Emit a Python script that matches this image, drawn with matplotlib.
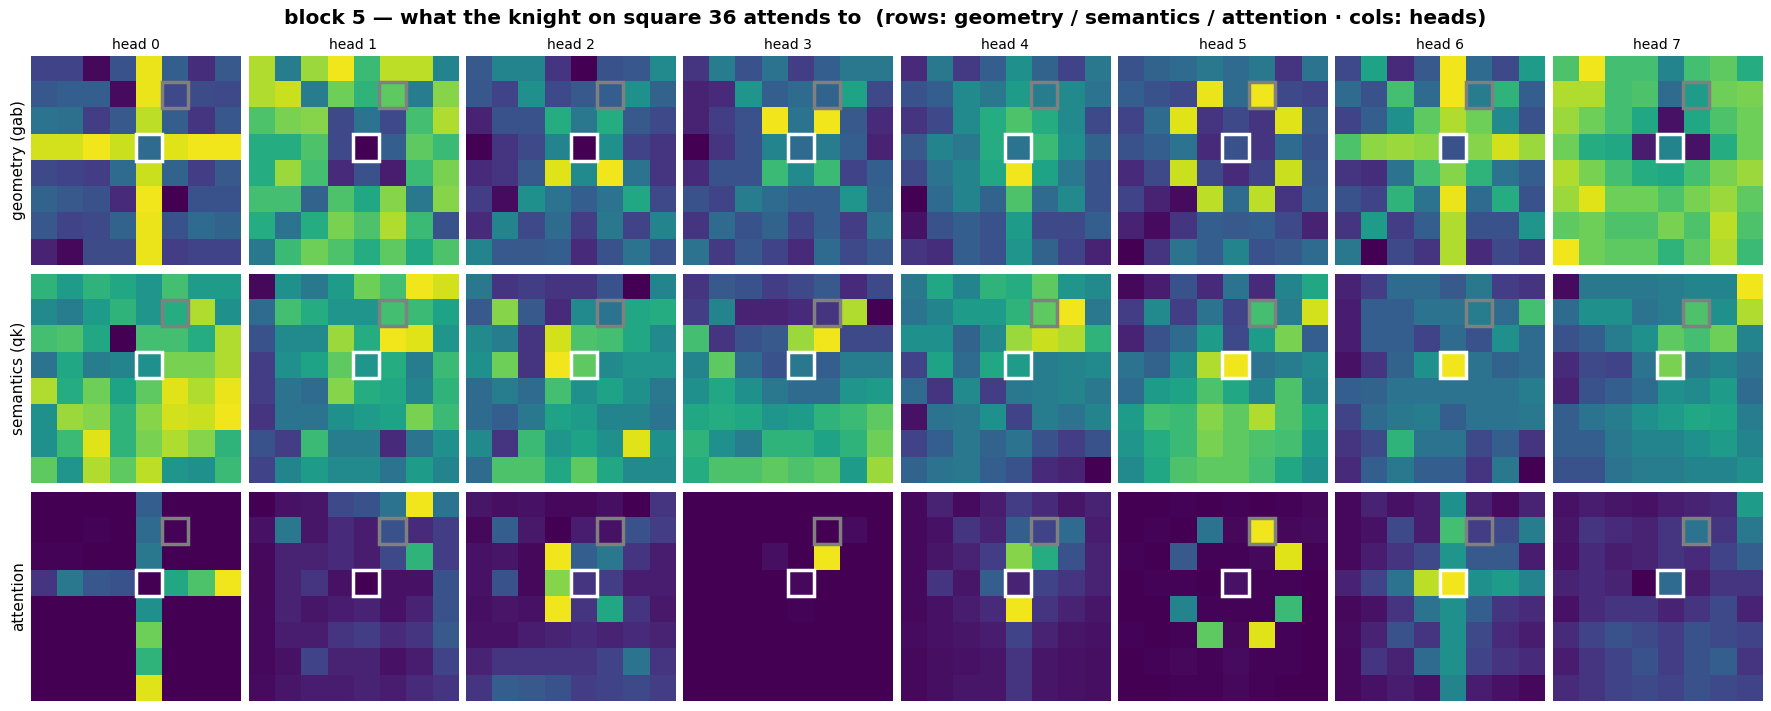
import numpy as np
import matplotlib
matplotlib.use("Agg")
import matplotlib.pyplot as plt
from matplotlib.patches import Rectangle

TITLE = "block 5 \u2014 what the knight on square 36 attends to  (rows: geometry / semantics / attention \u00b7 cols: heads)"
ROW_LABELS = ["geometry (gab)", "semantics (qk)", "attention"]
HEAD_LABELS = ["head 0", "head 1", "head 2", "head 3", "head 4", "head 5", "head 6", "head 7"]
KNIGHT_CELL = (3, 4)   # square 36 (row, col in displayed board)
TARGET_CELL = (1, 5)   # square 53

# ---------------- geometry (gab) ----------------
geometry_h0 = [
    [0.20, 0.20, 0.02, 0.25, 0.97, 0.30, 0.13, 0.28],
    [0.27, 0.30, 0.30, 0.03, 0.97, 0.22, 0.23, 0.22],
    [0.38, 0.37, 0.18, 0.28, 0.90, 0.30, 0.15, 0.27],
    [0.93, 0.93, 0.98, 0.92, 0.35, 0.95, 0.98, 0.98],
    [0.22, 0.20, 0.18, 0.35, 0.92, 0.32, 0.18, 0.28],
    [0.32, 0.28, 0.25, 0.12, 0.98, 0.00, 0.25, 0.25],
    [0.27, 0.20, 0.22, 0.32, 0.97, 0.25, 0.35, 0.32],
    [0.10, 0.02, 0.23, 0.23, 0.97, 0.18, 0.20, 0.20],
]
geometry_h1 = [
    [0.88, 0.42, 0.85, 0.98, 0.68, 0.90, 0.90, 0.45],
    [0.88, 0.92, 0.42, 0.78, 0.65, 0.75, 0.42, 0.82],
    [0.72, 0.80, 0.82, 0.22, 0.38, 0.22, 0.70, 0.88],
    [0.62, 0.62, 0.72, 0.22, 0.00, 0.30, 0.75, 0.68],
    [0.62, 0.85, 0.70, 0.12, 0.25, 0.08, 0.68, 0.80],
    [0.70, 0.70, 0.32, 0.72, 0.60, 0.82, 0.40, 0.82],
    [0.62, 0.38, 0.62, 0.80, 0.72, 0.88, 0.68, 0.25],
    [0.40, 0.68, 0.78, 0.72, 0.62, 0.75, 0.60, 0.72],
]
geometry_h2 = [
    [0.28, 0.45, 0.45, 0.15, 0.00, 0.25, 0.27, 0.48],
    [0.27, 0.20, 0.50, 0.22, 0.28, 0.30, 0.50, 0.32],
    [0.10, 0.25, 0.25, 0.62, 0.40, 0.62, 0.28, 0.22],
    [0.00, 0.15, 0.22, 0.45, 0.00, 0.50, 0.20, 0.15],
    [0.12, 0.15, 0.28, 0.95, 0.48, 0.98, 0.38, 0.15],
    [0.18, 0.03, 0.50, 0.38, 0.30, 0.38, 0.60, 0.22],
    [0.12, 0.45, 0.22, 0.35, 0.18, 0.40, 0.20, 0.45],
    [0.45, 0.28, 0.28, 0.30, 0.12, 0.25, 0.38, 0.25],
]
geometry_h3 = [
    [0.15, 0.42, 0.25, 0.38, 0.18, 0.30, 0.40, 0.40],
    [0.10, 0.12, 0.52, 0.30, 0.35, 0.32, 0.58, 0.22],
    [0.10, 0.18, 0.25, 0.98, 0.38, 0.98, 0.28, 0.12],
    [0.00, 0.15, 0.25, 0.45, 0.35, 0.42, 0.30, 0.10],
    [0.12, 0.25, 0.25, 0.68, 0.48, 0.68, 0.20, 0.30],
    [0.25, 0.20, 0.42, 0.35, 0.30, 0.30, 0.52, 0.32],
    [0.15, 0.35, 0.25, 0.32, 0.20, 0.30, 0.18, 0.38],
    [0.38, 0.17, 0.27, 0.20, 0.12, 0.35, 0.22, 0.28],
]
geometry_h4 = [
    [0.12, 0.40, 0.17, 0.30, 0.50, 0.32, 0.20, 0.40],
    [0.25, 0.30, 0.48, 0.40, 0.55, 0.42, 0.48, 0.38],
    [0.15, 0.22, 0.48, 0.62, 0.72, 0.62, 0.48, 0.22],
    [0.28, 0.45, 0.40, 0.62, 0.38, 0.68, 0.50, 0.32],
    [0.22, 0.38, 0.45, 0.60, 0.98, 0.58, 0.40, 0.25],
    [0.00, 0.35, 0.45, 0.32, 0.72, 0.35, 0.48, 0.25],
    [0.05, 0.25, 0.30, 0.25, 0.55, 0.22, 0.22, 0.30],
    [0.15, 0.13, 0.30, 0.25, 0.52, 0.32, 0.20, 0.10],
]
geometry_h5 = [
    [0.25, 0.32, 0.35, 0.40, 0.35, 0.40, 0.15, 0.38],
    [0.30, 0.25, 0.22, 0.97, 0.35, 0.98, 0.22, 0.20],
    [0.20, 0.35, 0.95, 0.15, 0.22, 0.15, 0.95, 0.28],
    [0.25, 0.30, 0.38, 0.12, 0.25, 0.15, 0.35, 0.25],
    [0.12, 0.22, 0.92, 0.22, 0.12, 0.20, 0.92, 0.28],
    [0.20, 0.10, 0.03, 0.90, 0.35, 0.90, 0.15, 0.30],
    [0.10, 0.03, 0.15, 0.30, 0.28, 0.30, 0.22, 0.10],
    [0.00, 0.15, 0.38, 0.30, 0.45, 0.25, 0.28, 0.35],
]
geometry_h6 = [
    [0.22, 0.58, 0.12, 0.28, 0.98, 0.35, 0.22, 0.55],
    [0.35, 0.25, 0.70, 0.35, 0.98, 0.42, 0.65, 0.30],
    [0.20, 0.30, 0.50, 0.75, 0.88, 0.78, 0.48, 0.25],
    [0.72, 0.83, 0.85, 0.83, 0.25, 0.82, 0.93, 0.85],
    [0.15, 0.13, 0.38, 0.70, 0.82, 0.65, 0.38, 0.30],
    [0.25, 0.20, 0.65, 0.38, 0.97, 0.35, 0.62, 0.25],
    [0.15, 0.55, 0.18, 0.30, 0.88, 0.25, 0.25, 0.52],
    [0.40, 0.00, 0.22, 0.15, 0.88, 0.12, 0.22, 0.17],
]
geometry_h7 = [
    [0.72, 0.98, 0.70, 0.70, 0.45, 0.70, 0.75, 0.62],
    [0.88, 0.88, 0.70, 0.72, 0.35, 0.55, 0.78, 0.80],
    [0.85, 0.78, 0.70, 0.60, 0.05, 0.60, 0.72, 0.78],
    [0.78, 0.62, 0.60, 0.08, 0.45, 0.05, 0.62, 0.78],
    [0.88, 0.80, 0.70, 0.62, 0.60, 0.70, 0.80, 0.85],
    [0.85, 0.95, 0.78, 0.78, 0.72, 0.80, 0.85, 0.75],
    [0.75, 0.78, 0.72, 0.72, 0.80, 0.72, 0.90, 0.72],
    [0.98, 0.78, 0.75, 0.75, 0.65, 0.75, 0.88, 0.68],
]

# ---------------- semantics (qk) ----------------
semantics_h0 = [
    [0.65, 0.55, 0.65, 0.60, 0.52, 0.70, 0.55, 0.55],
    [0.48, 0.42, 0.55, 0.65, 0.52, 0.62, 0.88, 0.50],
    [0.70, 0.72, 0.60, 0.00, 0.70, 0.70, 0.62, 0.88],
    [0.38, 0.60, 0.42, 0.45, 0.50, 0.80, 0.80, 0.88],
    [0.88, 0.62, 0.78, 0.58, 0.75, 0.95, 0.88, 0.97],
    [0.50, 0.85, 0.82, 0.65, 0.82, 0.93, 0.92, 0.98],
    [0.50, 0.68, 0.95, 0.65, 0.80, 0.88, 0.82, 0.65],
    [0.75, 0.52, 0.88, 0.75, 0.90, 0.52, 0.50, 0.68],
]
semantics_h1 = [
    [0.02, 0.50, 0.40, 0.55, 0.78, 0.70, 0.98, 0.93],
    [0.35, 0.70, 0.62, 0.52, 0.52, 0.70, 0.68, 0.58],
    [0.25, 0.48, 0.48, 0.85, 0.62, 0.98, 0.95, 0.52],
    [0.18, 0.50, 0.58, 0.75, 0.52, 0.62, 0.42, 0.68],
    [0.18, 0.38, 0.35, 0.82, 0.62, 0.60, 0.45, 0.65],
    [0.15, 0.38, 0.38, 0.50, 0.55, 0.58, 0.80, 0.68],
    [0.25, 0.18, 0.68, 0.42, 0.42, 0.12, 0.38, 0.50],
    [0.20, 0.45, 0.55, 0.48, 0.48, 0.38, 0.55, 0.45],
]
semantics_h2 = [
    [0.40, 0.15, 0.18, 0.15, 0.15, 0.25, 0.00, 0.45],
    [0.28, 0.82, 0.28, 0.12, 0.48, 0.38, 0.60, 0.62],
    [0.48, 0.42, 0.15, 0.93, 0.72, 0.70, 0.60, 0.48],
    [0.50, 0.78, 0.15, 0.98, 0.75, 0.48, 0.52, 0.52],
    [0.35, 0.42, 0.35, 0.70, 0.50, 0.58, 0.50, 0.40],
    [0.35, 0.30, 0.40, 0.58, 0.55, 0.45, 0.45, 0.38],
    [0.48, 0.15, 0.68, 0.52, 0.58, 0.50, 0.95, 0.50],
    [0.35, 0.72, 0.72, 0.60, 0.75, 0.60, 0.48, 0.48],
]
semantics_h3 = [
    [0.15, 0.28, 0.25, 0.18, 0.22, 0.28, 0.12, 0.22],
    [0.18, 0.45, 0.10, 0.10, 0.12, 0.15, 0.88, 0.00],
    [0.70, 0.15, 0.25, 0.28, 0.85, 0.98, 0.22, 0.22],
    [0.45, 0.75, 0.35, 0.25, 0.40, 0.30, 0.42, 0.42],
    [0.50, 0.60, 0.50, 0.40, 0.35, 0.35, 0.52, 0.55],
    [0.60, 0.62, 0.60, 0.52, 0.55, 0.65, 0.68, 0.75],
    [0.65, 0.50, 0.42, 0.65, 0.65, 0.58, 0.65, 0.78],
    [0.62, 0.72, 0.72, 0.75, 0.72, 0.75, 0.55, 0.85],
]
semantics_h4 = [
    [0.40, 0.60, 0.45, 0.65, 0.62, 0.75, 0.52, 0.48],
    [0.38, 0.45, 0.55, 0.55, 0.65, 0.75, 0.98, 0.40],
    [0.50, 0.50, 0.32, 0.48, 0.85, 0.92, 0.88, 0.65],
    [0.20, 0.58, 0.35, 0.60, 0.55, 0.42, 0.45, 0.48],
    [0.35, 0.15, 0.48, 0.18, 0.40, 0.42, 0.45, 0.40],
    [0.05, 0.38, 0.40, 0.50, 0.20, 0.42, 0.38, 0.45],
    [0.20, 0.30, 0.40, 0.32, 0.38, 0.25, 0.18, 0.25],
    [0.32, 0.38, 0.40, 0.30, 0.25, 0.12, 0.10, 0.00],
]
semantics_h5 = [
    [0.02, 0.08, 0.25, 0.12, 0.38, 0.12, 0.45, 0.60],
    [0.18, 0.48, 0.18, 0.38, 0.20, 0.70, 0.42, 0.93],
    [0.10, 0.25, 0.35, 0.55, 0.22, 0.55, 0.80, 0.30],
    [0.38, 0.32, 0.50, 0.88, 0.98, 0.38, 0.42, 0.48],
    [0.35, 0.55, 0.58, 0.72, 0.60, 0.45, 0.72, 0.45],
    [0.55, 0.70, 0.68, 0.82, 0.75, 0.88, 0.72, 0.60],
    [0.52, 0.62, 0.68, 0.80, 0.75, 0.72, 0.70, 0.55],
    [0.48, 0.60, 0.72, 0.75, 0.75, 0.70, 0.60, 0.50],
]
semantics_h6 = [
    [0.10, 0.18, 0.35, 0.35, 0.28, 0.40, 0.18, 0.15],
    [0.08, 0.30, 0.30, 0.38, 0.38, 0.42, 0.35, 0.70],
    [0.08, 0.30, 0.30, 0.20, 0.35, 0.25, 0.50, 0.35],
    [0.05, 0.15, 0.32, 0.50, 0.98, 0.38, 0.32, 0.35],
    [0.30, 0.32, 0.38, 0.38, 0.38, 0.38, 0.38, 0.42],
    [0.20, 0.35, 0.40, 0.42, 0.30, 0.38, 0.38, 0.40],
    [0.15, 0.22, 0.65, 0.38, 0.38, 0.22, 0.30, 0.15],
    [0.12, 0.30, 0.40, 0.30, 0.30, 0.15, 0.40, 0.00],
]
semantics_h7 = [
    [0.03, 0.40, 0.40, 0.40, 0.42, 0.45, 0.45, 0.98],
    [0.35, 0.50, 0.50, 0.38, 0.42, 0.72, 0.50, 0.88],
    [0.25, 0.30, 0.42, 0.50, 0.75, 0.70, 0.78, 0.45],
    [0.12, 0.22, 0.20, 0.38, 0.80, 0.40, 0.45, 0.38],
    [0.10, 0.25, 0.30, 0.35, 0.50, 0.48, 0.55, 0.35],
    [0.30, 0.38, 0.42, 0.50, 0.55, 0.60, 0.58, 0.42],
    [0.30, 0.30, 0.40, 0.45, 0.45, 0.50, 0.55, 0.45],
    [0.25, 0.25, 0.38, 0.42, 0.42, 0.45, 0.45, 0.50],
]

# ---------------- attention ----------------
attention_h0 = [
    [0.00, 0.00, 0.00, 0.00, 0.30, 0.00, 0.00, 0.00],
    [0.00, 0.00, 0.01, 0.00, 0.35, 0.01, 0.00, 0.00],
    [0.01, 0.01, 0.00, 0.00, 0.40, 0.00, 0.00, 0.00],
    [0.15, 0.40, 0.27, 0.25, 0.00, 0.60, 0.72, 0.98],
    [0.00, 0.00, 0.00, 0.00, 0.50, 0.00, 0.00, 0.00],
    [0.00, 0.00, 0.00, 0.00, 0.78, 0.00, 0.00, 0.00],
    [0.00, 0.00, 0.00, 0.00, 0.65, 0.00, 0.00, 0.00],
    [0.00, 0.00, 0.00, 0.00, 0.95, 0.00, 0.00, 0.00],
]
attention_h1 = [
    [0.00, 0.05, 0.06, 0.22, 0.25, 0.38, 0.98, 0.38],
    [0.05, 0.40, 0.06, 0.12, 0.08, 0.25, 0.12, 0.18],
    [0.02, 0.10, 0.10, 0.12, 0.08, 0.22, 0.65, 0.18],
    [0.02, 0.10, 0.15, 0.05, 0.00, 0.05, 0.05, 0.25],
    [0.02, 0.10, 0.06, 0.08, 0.10, 0.05, 0.10, 0.25],
    [0.02, 0.08, 0.08, 0.15, 0.18, 0.12, 0.15, 0.28],
    [0.02, 0.05, 0.20, 0.10, 0.10, 0.05, 0.08, 0.20],
    [0.03, 0.06, 0.08, 0.08, 0.10, 0.08, 0.12, 0.15],
]
attention_h2 = [
    [0.06, 0.04, 0.05, 0.02, 0.02, 0.04, 0.00, 0.15],
    [0.02, 0.30, 0.07, 0.00, 0.08, 0.05, 0.25, 0.18],
    [0.05, 0.06, 0.02, 0.98, 0.30, 0.40, 0.15, 0.08],
    [0.05, 0.25, 0.02, 0.82, 0.15, 0.18, 0.08, 0.08],
    [0.04, 0.06, 0.05, 0.98, 0.15, 0.60, 0.15, 0.07],
    [0.05, 0.05, 0.08, 0.10, 0.12, 0.10, 0.12, 0.10],
    [0.10, 0.15, 0.15, 0.15, 0.15, 0.20, 0.38, 0.15],
    [0.15, 0.30, 0.28, 0.25, 0.18, 0.20, 0.22, 0.18],
]
attention_h3 = [
    [0.00, 0.00, 0.00, 0.00, 0.00, 0.00, 0.00, 0.00],
    [0.00, 0.00, 0.00, 0.00, 0.00, 0.00, 0.03, 0.00],
    [0.00, 0.00, 0.00, 0.04, 0.00, 0.98, 0.00, 0.00],
    [0.00, 0.00, 0.00, 0.00, 0.02, 0.00, 0.00, 0.00],
    [0.00, 0.00, 0.00, 0.00, 0.01, 0.00, 0.00, 0.00],
    [0.00, 0.00, 0.00, 0.00, 0.00, 0.00, 0.00, 0.00],
    [0.00, 0.00, 0.00, 0.00, 0.00, 0.00, 0.00, 0.00],
    [0.00, 0.00, 0.00, 0.00, 0.00, 0.00, 0.00, 0.00],
]
attention_h4 = [
    [0.02, 0.10, 0.03, 0.08, 0.18, 0.12, 0.06, 0.10],
    [0.02, 0.05, 0.15, 0.10, 0.30, 0.20, 0.35, 0.08],
    [0.02, 0.06, 0.10, 0.18, 0.82, 0.62, 0.25, 0.10],
    [0.02, 0.15, 0.06, 0.30, 0.10, 0.20, 0.15, 0.10],
    [0.02, 0.05, 0.08, 0.12, 0.98, 0.15, 0.10, 0.06],
    [0.03, 0.05, 0.06, 0.08, 0.20, 0.10, 0.06, 0.05],
    [0.02, 0.04, 0.05, 0.06, 0.15, 0.06, 0.05, 0.04],
    [0.02, 0.04, 0.06, 0.06, 0.15, 0.06, 0.05, 0.04],
]
attention_h5 = [
    [0.00, 0.00, 0.01, 0.00, 0.01, 0.00, 0.01, 0.02],
    [0.00, 0.01, 0.00, 0.38, 0.02, 0.98, 0.02, 0.03],
    [0.01, 0.00, 0.28, 0.01, 0.01, 0.02, 0.95, 0.01],
    [0.00, 0.01, 0.01, 0.00, 0.05, 0.01, 0.01, 0.00],
    [0.00, 0.00, 0.45, 0.01, 0.01, 0.01, 0.68, 0.00],
    [0.01, 0.00, 0.01, 0.75, 0.02, 0.95, 0.01, 0.00],
    [0.00, 0.01, 0.02, 0.01, 0.03, 0.01, 0.01, 0.00],
    [0.00, 0.00, 0.01, 0.01, 0.02, 0.01, 0.00, 0.00],
]
attention_h6 = [
    [0.02, 0.10, 0.05, 0.08, 0.50, 0.10, 0.03, 0.10],
    [0.02, 0.05, 0.22, 0.08, 0.70, 0.18, 0.22, 0.42],
    [0.02, 0.08, 0.15, 0.22, 0.52, 0.28, 0.28, 0.08],
    [0.10, 0.20, 0.38, 0.90, 0.98, 0.50, 0.55, 0.45],
    [0.02, 0.05, 0.15, 0.38, 0.50, 0.30, 0.15, 0.12],
    [0.03, 0.10, 0.25, 0.15, 0.50, 0.22, 0.12, 0.08],
    [0.02, 0.15, 0.10, 0.35, 0.50, 0.20, 0.15, 0.12],
    [0.02, 0.05, 0.08, 0.05, 0.45, 0.08, 0.05, 0.02],
]
attention_h7 = [
    [0.05, 0.08, 0.06, 0.05, 0.08, 0.10, 0.12, 0.55],
    [0.06, 0.15, 0.12, 0.10, 0.15, 0.38, 0.15, 0.40],
    [0.05, 0.12, 0.08, 0.10, 0.15, 0.12, 0.20, 0.30],
    [0.10, 0.12, 0.10, 0.00, 0.35, 0.08, 0.15, 0.15],
    [0.05, 0.12, 0.15, 0.15, 0.10, 0.15, 0.22, 0.10],
    [0.12, 0.20, 0.25, 0.22, 0.18, 0.25, 0.22, 0.20],
    [0.08, 0.15, 0.20, 0.25, 0.18, 0.25, 0.30, 0.15],
    [0.12, 0.15, 0.20, 0.22, 0.20, 0.25, 0.22, 0.20],
]

geometry = [geometry_h0, geometry_h1, geometry_h2, geometry_h3,
            geometry_h4, geometry_h5, geometry_h6, geometry_h7]
semantics = [semantics_h0, semantics_h1, semantics_h2, semantics_h3,
             semantics_h4, semantics_h5, semantics_h6, semantics_h7]
attention = [attention_h0, attention_h1, attention_h2, attention_h3,
             attention_h4, attention_h5, attention_h6, attention_h7]
rows = [geometry, semantics, attention]

W, H = 1771, 711
fig, axes = plt.subplots(3, 8, figsize=(W / 100, H / 100), dpi=100)
fig.subplots_adjust(left=31 / W, right=1762 / W, top=1 - 56 / H, bottom=10 / H,
                    wspace=0.035, hspace=0.043)

for r, row in enumerate(rows):
    for c, grid in enumerate(row):
        ax = axes[r, c]
        ax.imshow(np.array(grid), cmap="viridis", vmin=0, vmax=1,
                  interpolation="nearest", aspect="equal")
        ax.set_xticks([])
        ax.set_yticks([])
        for s in ax.spines.values():
            s.set_visible(False)
        kr, kc = KNIGHT_CELL
        tr, tc = TARGET_CELL
        ax.add_patch(Rectangle((kc - 0.5, kr - 0.5), 1, 1, fill=False,
                               edgecolor="white", linewidth=2.5))
        ax.add_patch(Rectangle((tc - 0.5, tr - 0.5), 1, 1, fill=False,
                               edgecolor="gray", linewidth=2.5))
        if r == 0:
            ax.set_title(HEAD_LABELS[c], fontsize=10, pad=5)
        if c == 0:
            ax.set_ylabel(ROW_LABELS[r], fontsize=11)

fig.suptitle(TITLE, fontsize=14.5, fontweight="bold", y=1 - 19 / H, va="center")
fig.savefig("out.png", dpi=100)
